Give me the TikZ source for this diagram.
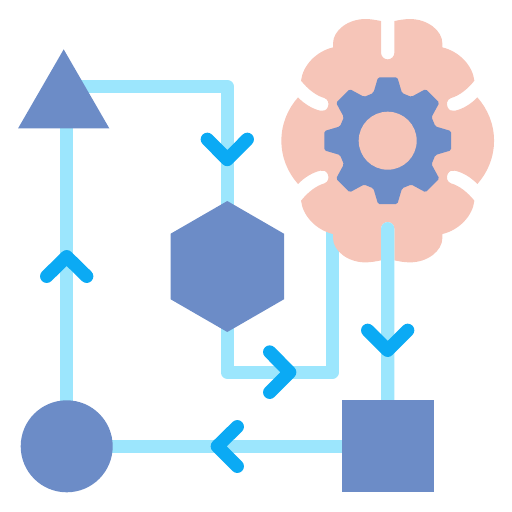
\documentclass[tikz,border=0pt]{standalone}
\usetikzlibrary{shapes.geometric}
\definecolor{linkc}{HTML}{9CE6FD}
\definecolor{chevc}{HTML}{0BAAF4}
\definecolor{shapec}{HTML}{6C8CC7}
\definecolor{brainc}{HTML}{F6C5B8}
\tikzset{
  link/.style={draw=linkc,line width=13.3pt,line join=round},
  chev/.style={draw=chevc,line width=13.3pt,line cap=round,line join=round},
  solid shape/.style={fill=shapec,draw=none,inner sep=0pt,outer sep=0pt},
}
\begin{document}
\begin{tikzpicture}[x=1pt,y=-1pt]
\useasboundingbox (0,0) rectangle (512,512);
% anchors
\coordinate (brain) at (387.7,140.7);
\coordinate (topcorner) at (227.3,86.7);
\coordinate (hexcorner) at (227.3,372.3);
\coordinate (rightcorner) at (332.2,372.3);
\coordinate (brainin) at (332.2,225);
\coordinate (slit) at (387.7,228.7);
% nodes placed first so connectors may name them (drawn later on top)
\path node[solid shape,regular polygon,regular polygon sides=3,minimum size=105.3pt,fill=none] (tri) at (63.7,102) {}
      node[solid shape,regular polygon,regular polygon sides=6,shape border rotate=30,minimum size=131pt,fill=none] (hex) at (227.3,266.5) {}
      node[solid shape,circle,minimum size=92pt,fill=none] (circ) at (66.7,446.3) {}
      node[solid shape,rectangle,minimum size=92pt,fill=none] (sq) at (387.8,446.3) {};
% connectors under brain
\draw[link] (tri |- topcorner) -- (topcorner) -- (hex.center);
\draw[link] (hex.center) -- (hexcorner) -- (rightcorner) -- (brainin);
\draw[link] (sq.center) -- (circ.center);
\draw[link] (circ.center) -- (circ |- tri);
% brain
\begin{scope}[shift={(brain)},x=0.33333pt,y=-0.33333pt]
\fill[brainc]
 (0,-244) .. controls (11,-244) and (20,-253) .. (20,-264) -- (20,-359)
 .. controls (35,-362) and (50,-365) .. (67,-365)
 .. controls (120,-365) and (164,-330) .. (164,-292) -- (164,-280)
 .. controls (215,-268) and (255,-225) .. (260,-180)
 .. controls (240,-155) and (215,-135) .. (190,-128)
 .. controls (178,-124) and (175,-110) .. (180,-100)
 .. controls (184,-91) and (193,-88) .. (202,-90)
 .. controls (225,-95) and (250,-110) .. (269,-130)
 .. controls (300,-95) and (319,-50) .. (319,0)
 .. controls (319,50) and (300,95) .. (269,130)
 .. controls (250,110) and (225,95) .. (202,90)
 .. controls (193,88) and (184,91) .. (180,100)
 .. controls (175,110) and (178,124) .. (190,128)
 .. controls (215,135) and (240,155) .. (260,180)
 .. controls (255,225) and (215,268) .. (164,280) -- (164,292)
 .. controls (164,330) and (120,365) .. (67,365)
 .. controls (50,365) and (35,362) .. (20,359) -- (20,264)
 .. controls (20,253) and (11,244) .. (0,244)
 .. controls (-11,244) and (-20,253) .. (-20,264) -- (-20,359)
 .. controls (-35,362) and (-50,365) .. (-67,365)
 .. controls (-120,365) and (-164,330) .. (-164,292) -- (-164,280)
 .. controls (-215,268) and (-255,225) .. (-260,180)
 .. controls (-240,155) and (-215,135) .. (-190,128)
 .. controls (-178,124) and (-175,110) .. (-180,100)
 .. controls (-184,91) and (-193,88) .. (-202,90)
 .. controls (-225,95) and (-250,110) .. (-269,130)
 .. controls (-300,95) and (-319,50) .. (-319,0)
 .. controls (-319,-50) and (-300,-95) .. (-269,-130)
 .. controls (-250,-110) and (-225,-95) .. (-202,-90)
 .. controls (-193,-88) and (-184,-91) .. (-180,-100)
 .. controls (-175,-110) and (-178,-124) .. (-190,-128)
 .. controls (-215,-135) and (-240,-155) .. (-260,-180)
 .. controls (-255,-225) and (-215,-268) .. (-164,-280) -- (-164,-292)
 .. controls (-164,-330) and (-120,-365) .. (-67,-365)
 .. controls (-50,-365) and (-35,-362) .. (-20,-359) -- (-20,-264)
 .. controls (-20,-253) and (-11,-244) .. (0,-244) -- cycle;
% gear
\fill[shapec,rounded corners=1.5pt]
 (-106.7:149.3)
 \foreach \a in {-90,-45,0,45,90,135,180,225} {
   -- (\a-16.7:149.3) -- (\a-8.68:192.2) -- (\a+8.68:192.2) -- (\a+16.7:149.3)
 } -- cycle;
\fill[brainc] (0,0) circle (87);
\end{scope}
% line out of the brain
\draw[draw=linkc,line width=13.3pt,line cap=round] (slit) -- (sq.center);
% solid shapes
\node[solid shape,regular polygon,regular polygon sides=3,minimum size=105.3pt] at (tri) {};
\node[solid shape,regular polygon,regular polygon sides=6,shape border rotate=30,minimum size=131pt] at (hex) {};
\node[solid shape,circle,minimum size=92pt] at (circ) {};
\node[solid shape,rectangle,minimum size=92pt] at (sq) {};
% chevrons
\draw[chev] (207.3,139.3) -- (227.3,159.5) -- (247.3,139.3);
\draw[chev] (46.7,276.3) -- (66.7,256.7) -- (86.7,276.3);
\draw[chev] (269.7,352) -- (289.7,372.2) -- (269.7,392.3);
\draw[chev] (367.7,330.3) -- (387.7,350.3) -- (407.7,330.3);
\draw[chev] (237.3,426.7) -- (217.3,446.3) -- (237.3,466.3);
\end{tikzpicture}
\end{document}
